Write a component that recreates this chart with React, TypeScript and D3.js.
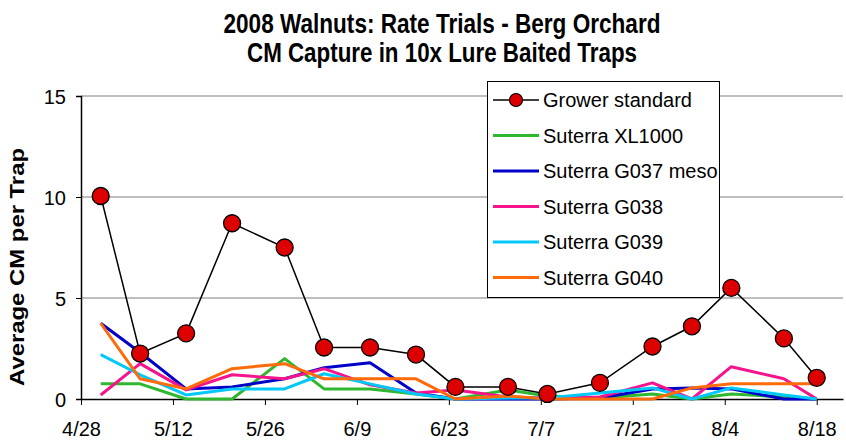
import { useEffect, useRef } from 'react'
import * as d3 from 'd3'

const dates = ['5/1', '5/7', '5/14', '5/21', '5/29', '6/4', '6/11', '6/18', '6/24', '7/2', '7/8', '7/16', '7/24', '7/30', '8/5', '8/13', '8/18']
const grower = [10.05, 2.25, 3.25, 8.7, 7.5, 2.55, 2.55, 2.2, 0.6, 0.6, 0.25, 0.8, 2.6, 3.6, 5.5, 3.0, 1.05]
const xl1000 = [0.75, 0.75, 0, 0, 2.0, 0.5, 0.5, 0.25, 0, 0.45, 0.15, 0.05, 0.25, 0, 0.25, 0.1, 0]
const g037 = [3.75, 2.3, 0.5, 0.6, 1.0, 1.55, 1.8, 0.3, 0, 0, 0, 0.05, 0.5, 0.55, 0.5, 0, 0]
const g038 = [0.2, 1.75, 0.45, 1.2, 1.0, 1.5, 0.7, 0.3, 0.45, 0.1, 0.05, 0.1, 0.8, 0, 1.6, 1.0, 0]
const g039 = [2.2, 1.2, 0.2, 0.5, 0.5, 1.25, 0.75, 0.25, 0, 0.05, 0.05, 0.3, 0.55, 0, 0.55, 0.2, 0]
const g040 = [3.75, 1.0, 0.5, 1.5, 1.75, 1.0, 1.0, 1.0, 0, 0.15, 0, 0, 0, 0.55, 0.75, 0.75, 0.75]

const xTicks = ['4/28', '5/12', '5/26', '6/9', '6/23', '7/7', '7/21', '8/4', '8/18']
const yTicks = [0, 5, 10, 15]

const series = [
  { name: 'Suterra XL1000', values: xl1000, color: '#2fb82f' },
  { name: 'Suterra G037 meso', values: g037, color: '#0000c8' },
  { name: 'Suterra G038', values: g038, color: '#f5148c' },
  { name: 'Suterra G039', values: g039, color: '#00c8f8' },
  { name: 'Suterra G040', values: g040, color: '#ff6a0a' },
]

const parse = d3.timeParse('%m/%d/%Y')
const toDate = (s: string) => parse(`${s}/2008`) as Date

const FONT = '"Liberation Sans", Arial, sans-serif'

function App() {
  const ref = useRef<SVGSVGElement | null>(null)

  useEffect(() => {
    const svg = d3.select(ref.current)
    svg.selectAll('*').remove()

    const x = d3
      .scaleTime()
      .domain([toDate('4/28'), toDate('8/22')])
      .range([81, 843])
    const y = d3.scaleLinear().domain([0, 15]).range([399, 96])

    svg.append('rect').attr('width', 846).attr('height', 442).attr('fill', '#fff')

    // titles
    const title = svg.append('g').attr('font-family', FONT).attr('font-weight', 'bold').attr('text-anchor', 'middle')
    title
      .append('text')
      .attr('x', 442)
      .attr('y', 33)
      .attr('font-size', 27)
      .attr('textLength', 437)
      .attr('lengthAdjust', 'spacingAndGlyphs')
      .text('2008 Walnuts: Rate Trials - Berg Orchard')
    title
      .append('text')
      .attr('x', 442)
      .attr('y', 62)
      .attr('font-size', 27)
      .attr('textLength', 390)
      .attr('lengthAdjust', 'spacingAndGlyphs')
      .text('CM Capture in 10x Lure Baited Traps')

    svg
      .append('text')
      .attr('transform', 'translate(24,267) rotate(-90)')
      .attr('text-anchor', 'middle')
      .attr('font-family', FONT)
      .attr('font-weight', 'bold')
      .attr('font-size', 20)
      .attr('textLength', 238)
      .attr('lengthAdjust', 'spacingAndGlyphs')
      .text('Average CM per Trap')

    // grid
    svg
      .append('g')
      .selectAll('line')
      .data(yTicks.filter((d) => d > 0))
      .enter()
      .append('line')
      .attr('x1', 81)
      .attr('x2', 843)
      .attr('y1', (d) => y(d))
      .attr('y2', (d) => y(d))
      .attr('stroke', '#808080')
      .attr('stroke-width', 1.2)

    // y axis
    const yAxis = svg
      .append('g')
      .attr('transform', 'translate(81,0)')
      .call(d3.axisLeft(y).tickValues(yTicks).tickSize(5).tickPadding(10))
    yAxis.select('.domain').attr('stroke', '#000').attr('stroke-width', 1.5)
    yAxis.selectAll('line').attr('stroke', '#000')
    yAxis.selectAll('text').attr('font-family', FONT).attr('font-size', 20).attr('fill', '#000').attr('dy', '0.36em')

    // x axis
    const xAxis = svg
      .append('g')
      .attr('transform', 'translate(0,399)')
      .call(
        d3
          .axisBottom(x)
          .tickValues(xTicks.map(toDate))
          .tickFormat((d) => d3.timeFormat('%-m/%-d')(d as Date))
          .tickSize(6)
          .tickSizeOuter(0)
          .tickPadding(17),
      )
    xAxis.select('.domain').attr('stroke', '#000').attr('stroke-width', 1.5)
    xAxis.selectAll('line').attr('stroke', '#000')
    xAxis.selectAll('text').attr('font-family', FONT).attr('font-size', 20).attr('fill', '#000')

    const pts = (vals: number[]) => vals.map((v, i) => [x(toDate(dates[i])), y(v)] as [number, number])
    const line = d3.line()

    series.forEach((s) => {
      svg
        .append('path')
        .attr('d', line(pts(s.values)))
        .attr('fill', 'none')
        .attr('stroke', s.color)
        .attr('stroke-width', 3)
        .attr('stroke-linejoin', 'round')
    })

    svg
      .append('path')
      .attr('d', line(pts(grower)))
      .attr('fill', 'none')
      .attr('stroke', '#000')
      .attr('stroke-width', 1.5)

    svg
      .append('g')
      .selectAll('circle')
      .data(pts(grower))
      .enter()
      .append('circle')
      .attr('cx', (d) => d[0])
      .attr('cy', (d) => d[1])
      .attr('r', 8.5)
      .attr('fill', '#dd0000')
      .attr('stroke', '#000')
      .attr('stroke-width', 1.3)

    // legend
    const lg = svg.append('g').attr('font-family', FONT).attr('font-size', 20)
    lg.append('rect')
      .attr('x', 487.5)
      .attr('y', 81.5)
      .attr('width', 232)
      .attr('height', 216)
      .attr('fill', '#fff')
      .attr('stroke', '#000')
      .attr('stroke-width', 1)

    const rows = [{ name: 'Grower standard', color: '#000' }, ...series]
    rows.forEach((r, i) => {
      const cy = 100 + i * 35.5
      lg.append('line')
        .attr('x1', 493)
        .attr('x2', 539)
        .attr('y1', cy)
        .attr('y2', cy)
        .attr('stroke', r.color)
        .attr('stroke-width', i === 0 ? 1.5 : 3)
      if (i === 0) {
        lg.append('circle')
          .attr('cx', 516)
          .attr('cy', cy)
          .attr('r', 6.5)
          .attr('fill', '#dd0000')
          .attr('stroke', '#000')
          .attr('stroke-width', 1.2)
      }
      lg.append('text').attr('x', 543).attr('y', cy).attr('dy', '0.36em').text(r.name)
    })
  }, [])

  return (
    <svg
      ref={ref}
      width={846}
      height={442}
      style={{ position: 'absolute', left: 0, top: 0 }}
    />
  )
}

export default App
